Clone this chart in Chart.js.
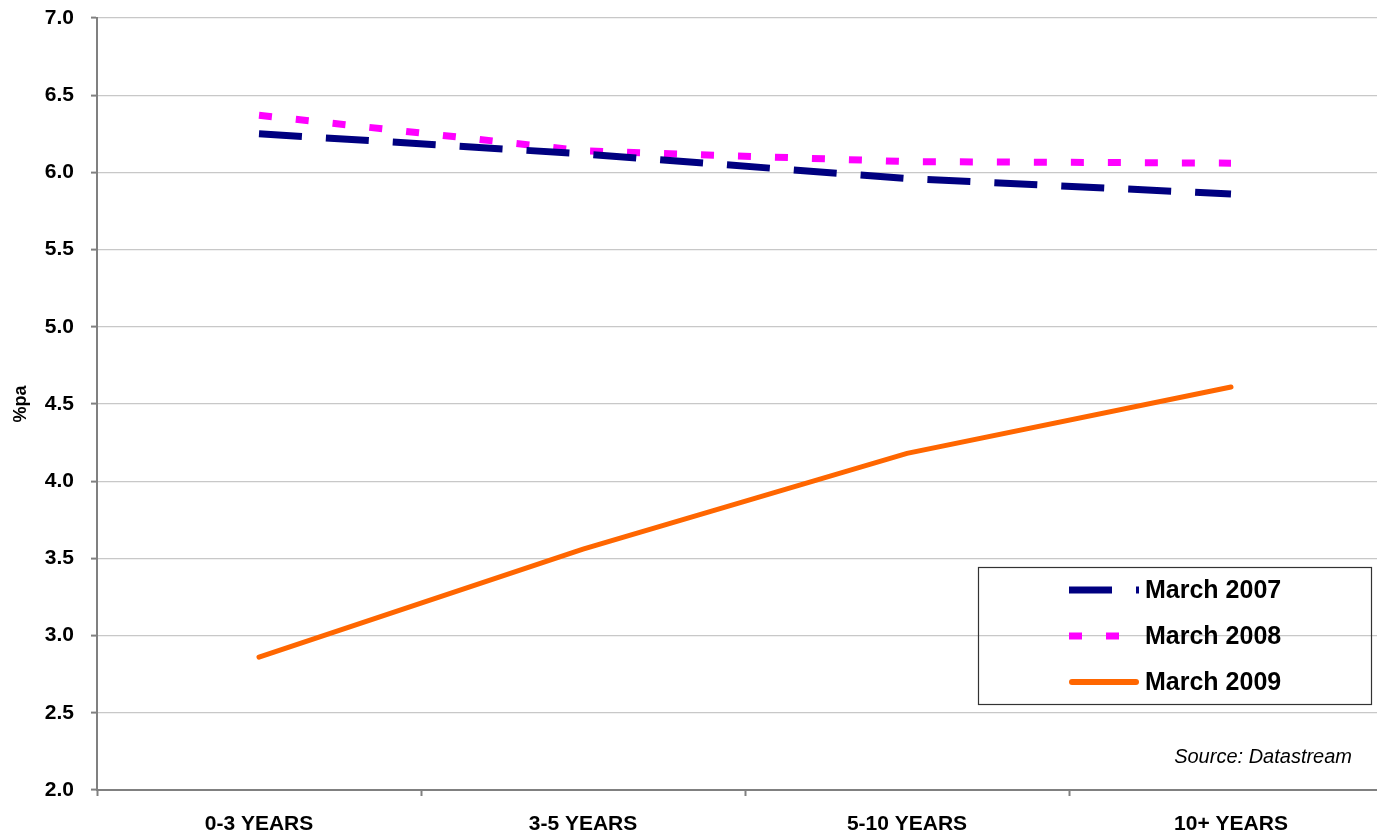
<!DOCTYPE html>
<html>
<head>
<meta charset="utf-8">
<script src="https://cdn.jsdelivr.net/npm/chart.js@4"></script>
<style>
  html, body { margin: 0; padding: 0; background: #fff; overflow: hidden; }
  #wrap { width: 1393px; height: 834px; position: relative; }
</style>
</head>
<body>
<div id="wrap"><canvas id="grafico"></canvas></div>
<script>
const categorias = ['0-3 YEARS', '3-5 YEARS', '5-10 YEARS', '10+ YEARS'];
const marzo2007 = [6.25, 6.12, 5.96, 5.86];
const marzo2008 = [6.37, 6.14, 6.07, 6.06];
const marzo2009 = [2.86, 3.56, 4.18, 4.61];
const yMin = 2.0;
const yMax = 7.0;
const yPaso = 0.5;

const fuente = 'Arial, "Liberation Sans", sans-serif';

// leyenda dibujada a mano dentro del grafico
const leyendaPlugin = {
    id: 'leyendaCaja',
    afterDatasetsDraw(chart) {
        const ctx = chart.ctx;
        const x0 = 978;
        const y0 = 567;
        ctx.save();
        ctx.strokeStyle = '#333';
        ctx.lineWidth = 1.2;
        ctx.strokeRect(x0 + 0.5, y0 + 0.5, 393, 137);

        chart.data.datasets.forEach((ds, i) => {
            const y = y0 + 23 + i * 46;
            ctx.beginPath();
            ctx.strokeStyle = ds.borderColor;
            ctx.lineWidth = i === 2 ? 6 : ds.borderWidth;
            ctx.setLineDash(ds.borderDash || []);
            ctx.lineCap = ds.borderCapStyle || 'butt';
            const xa = x0 + 91;
            const offset = i === 2 ? 3 : 0;
            ctx.moveTo(xa + offset, y);
            ctx.lineTo(xa + 70 - offset, y);
            ctx.stroke();
            ctx.setLineDash([]);
            ctx.fillStyle = '#000';
            ctx.font = 'bold 25px ' + fuente;
            ctx.textAlign = 'left';
            ctx.textBaseline = 'middle';
            ctx.fillText(ds.label, x0 + 167, y + 1);
        });

        ctx.font = 'italic 20px ' + fuente;
        ctx.textAlign = 'right';
        ctx.textBaseline = 'middle';
        ctx.fillText('Source: Datastream', 1352, 757);
        ctx.restore();
    }
};

const ctx = document.getElementById('grafico').getContext('2d');
const myChart = new Chart(ctx, {
    type: 'line',
    data: {
        labels: categorias,
        datasets: [
            {
                label: 'March 2007',
                data: marzo2007,
                borderColor: '#000080',
                borderWidth: 7,
                borderDash: [43, 24],
                pointRadius: 0,
                tension: 0
            },
            {
                label: 'March 2008',
                data: marzo2008,
                borderColor: '#FF00FF',
                borderWidth: 7,
                borderDash: [13, 24],
                pointRadius: 0,
                tension: 0
            },
            {
                label: 'March 2009',
                data: marzo2009,
                borderColor: '#FF6600',
                borderWidth: 5,
                borderCapStyle: 'round',
                pointRadius: 0,
                tension: 0
            }
        ]
    },
    options: {
        responsive: true,
        maintainAspectRatio: false,
        animation: false,
        layout: { padding: { top: 18, right: 0, left: 0, bottom: 0 } },
        plugins: {
            legend: { display: false },
            tooltip: { enabled: false }
        },
        scales: {
            x: {
                offset: true,
                grid: {
                    offset: true,
                    drawOnChartArea: false,
                    drawTicks: true,
                    tickLength: 6,
                    tickColor: '#808080',
                    tickWidth: 2
                },
                border: { color: '#808080', width: 2 },
                ticks: {
                    color: '#000',
                    padding: 16,
                    maxRotation: 0,
                    font: { family: fuente, size: 21, weight: 'bold' }
                },
                afterFit(scale) { scale.height = 44; }
            },
            y: {
                min: yMin,
                max: yMax,
                grid: {
                    color: '#c8c8c8',
                    lineWidth: 1.2,
                    tickLength: 6,
                    tickColor: '#808080',
                    tickWidth: 2
                },
                border: { color: '#808080', width: 2 },
                ticks: {
                    stepSize: yPaso,
                    color: '#000',
                    padding: 17,
                    font: { family: fuente, size: 21, weight: 'bold' },
                    callback: v => v.toFixed(1)
                },
                title: {
                    display: true,
                    text: '%pa',
                    color: '#000',
                    padding: { top: 10, bottom: 0 },
                    font: { family: fuente, size: 18, weight: 'bold' }
                },
                afterFit(scale) {
                    scale.width = 97;
                    scale.paddingTop = 0;
                    scale.paddingBottom = 0;
                }
            }
        }
    },
    plugins: [leyendaPlugin]
});
</script>
</body>
</html>
